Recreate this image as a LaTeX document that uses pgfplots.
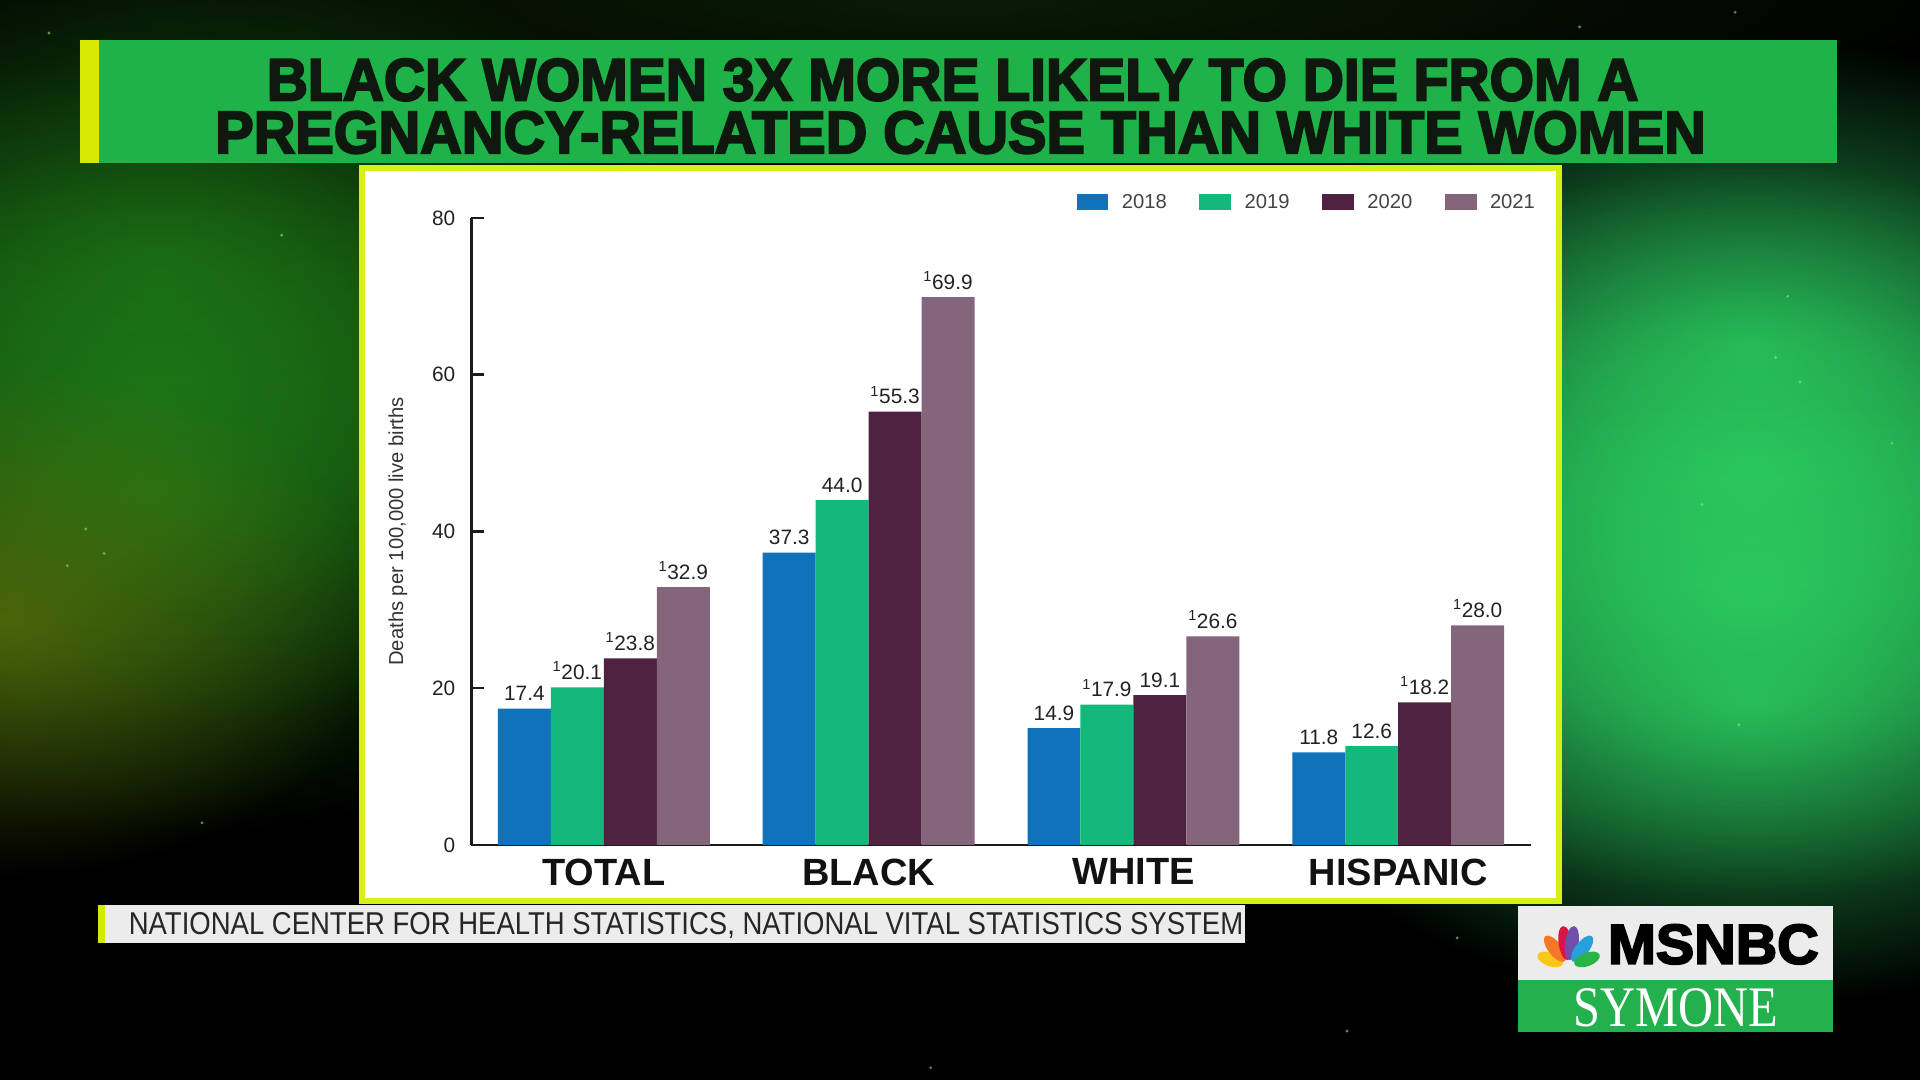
\documentclass[border=0pt]{standalone}
\usepackage{pgfplots}
\pgfplotsset{compat=1.18}
\usepackage{pgfplotstable}
\usepackage{graphicx}
\usepackage{fontspec}
\usetikzlibrary{fadings}
\setmainfont{Liberation Sans}
\newfontfamily\heavyfont{Liberation Sans}[BoldFeatures={FakeBold=3.5}]
\newfontfamily\seriffont{Liberation Serif}

% soft radial glow
\tikzfading[name=glow, inner color=transparent!0, outer color=transparent!100]

% footnote marker in front of a rate
\protected\def\fn{\textsuperscript{1}}

\definecolor{c18}{RGB}{16,114,185}
\definecolor{c19}{RGB}{19,185,122}
\definecolor{c20}{RGB}{79,34,66}
\definecolor{c21}{RGB}{132,101,124}
\definecolor{bandgreen}{RGB}{31,178,72}
\definecolor{stripe}{RGB}{212,232,0}
\definecolor{panelborder}{RGB}{215,240,20}
\definecolor{titlec}{RGB}{14,24,14}
\definecolor{capgray}{RGB}{236,236,236}
\definecolor{logogray}{RGB}{236,236,236}
\definecolor{logogreen}{RGB}{34,177,76}
\definecolor{axisc}{RGB}{26,26,26}
\definecolor{tickc}{RGB}{34,34,34}
\definecolor{valc}{RGB}{34,34,34}
\definecolor{labc}{RGB}{51,51,51}
\definecolor{legc}{RGB}{68,68,68}
\definecolor{glowL}{RGB}{32,130,25}
\definecolor{glowO}{RGB}{95,115,10}
\definecolor{glowR}{RGB}{45,212,100}

% Maternal mortality rates, deaths per 100,000 live births
\pgfplotstableread{
x  a     la      b     lb       c     lc       d     ld
0  17.4  17.4    20.1  \fn20.1  23.8  \fn23.8  32.9  \fn32.9
1  37.3  37.3    44.0  44.0     55.3  \fn55.3  69.9  \fn69.9
2  14.9  14.9    17.9  \fn17.9  19.1  19.1     26.6  \fn26.6
3  11.8  11.8    12.6  12.6     18.2  \fn18.2  28.0  \fn28.0
}\rates

\begin{document}
\begin{tikzpicture}
\useasboundingbox (0,0) rectangle (1568pt,882pt);
\begin{scope}[x=1pt,y=1pt]
  % dark backdrop with green glow
  \fill[black] (0,0) rectangle (1568,882);
  \begin{scope}
    \clip (0,0) rectangle (1568,882);
    \fill[color={rgb,255:red,20;green,55;blue,10}, opacity=0.5, path fading=glow] (780,882) ellipse (900 and 120);
    \foreach \gy in {660,570,480}
      \fill[glowL, opacity=0.65, path fading=glow] (130,\gy) ellipse (440 and 280);
    \fill[glowO, opacity=0.75, path fading=glow] (0,375) ellipse (320 and 210);
    \foreach \gy in {600,500,400,310}
      \fill[glowR, opacity=0.75, path fading=glow] (1430,\gy) ellipse (420 and 250);
    \foreach \px/\py in {40/855,1417/872,1290/860,230/690,1460/640,1390/470,55/420,1545/520,1190/116,1420/290,165/210,1330/60,760/10,1100/40,1470/570,1450/590,70/450,85/430}
      \fill[color={rgb,255:red,150;green,230;blue,120}, opacity=0.6] (\px,\py) circle (1.3);
  \end{scope}

  % headline band
  \fill[bandgreen] (65,749) rectangle (1500,849);
  \fill[stripe] (65,749) rectangle (81,849);
  \node[anchor=base, inner sep=0pt, text=titlec] at (778,800)
    {\resizebox{1120pt}{34pt}{\heavyfont\bfseries BLACK WOMEN 3X MORE LIKELY TO DIE FROM A}};
  \node[anchor=base, inner sep=0pt, text=titlec] at (784.5,757)
    {\resizebox{1217pt}{34pt}{\heavyfont\bfseries PREGNANCY-RELATED CAUSE THAN WHITE WOMEN}};

  % chart panel
  \fill[panelborder] (293,144) rectangle (1276,747);
  \fill[white] (298,149) rectangle (1271,742);

  % source strip
  \fill[capgray] (80,112) rectangle (1017,143);
  \fill[stripe] (80,112) rectangle (86,143);
  \node[anchor=base west, inner sep=0pt, text=black!85] at (105,119)
    {\resizebox{910pt}{18pt}{NATIONAL CENTER FOR HEALTH STATISTICS, NATIONAL VITAL STATISTICS SYSTEM}};

  % network logo
  \fill[logogray] (1240,82) rectangle (1497,142);
  \fill[logogreen] (1240,39) rectangle (1497,82);
  \foreach \ang/\col/\len in {160/{rgb,255:red,250;green,200;blue,20}/11,
                              128/{rgb,255:red,245;green,120;blue,40}/13,
                              98/{rgb,255:red,220;green,20;blue,70}/14,
                              82/{rgb,255:red,110;green,80;blue,170}/14,
                              52/{rgb,255:red,40;green,160;blue,220}/13,
                              20/{rgb,255:red,40;green,180;blue,70}/11}
  {
    \fill[color=\col, rotate around={\ang:({1281+(\len+5)*cos(\ang)},{93+(\len+5)*sin(\ang)})}]
      ({1281+(\len+5)*cos(\ang)},{93+(\len+5)*sin(\ang)}) ellipse (\len pt and 5.5pt);
  }
  \node[anchor=base west, inner sep=0pt, text=black] at (1313,95)
    {\resizebox{172pt}{32pt}{\heavyfont\bfseries MSNBC}};
  \node[anchor=base west, inner sep=0pt, text=white] at (1285,44)
    {\resizebox{167pt}{31pt}{\seriffont SYMONE}};
\end{scope}

\begin{axis}[
  at={(385pt,192pt)}, anchor=south west,
  scale only axis, width=865pt, height=512pt,
  xmin=-0.5, xmax=3.5, ymin=0, ymax=80,
  axis x line*=bottom, axis y line*=left,
  axis line style={-, line width=2pt, color=axisc},
  xtick={0,1,2,3}, xticklabels={TOTAL,BLACK,WHITE,HISPANIC},
  ytick={0,20,40,60,80},
  tick align=inside,
  xtick style={draw=none},
  ytick style={line width=2pt, color=axisc},
  major tick length=10pt,
  /pgf/number format/assume math mode=true,
  yticklabel style={font=\fontsize{17}{20}\selectfont, text=tickc, inner sep=0pt, anchor=east, xshift=-13pt},
  xticklabel style={font=\fontsize{31}{36}\selectfont\bfseries, text=black!93, inner sep=0pt, anchor=north, yshift=-1pt},
  ylabel={Deaths per 100,000 live births},
  every axis y label/.style={at={(axis description cs:-0.0694,0.5)}, rotate=90, anchor=center,
    font=\fontsize{16.5}{20}\selectfont, text=labc},
  ybar, bar width=0.2,
  point meta=explicit symbolic,
  nodes near coords,
  nodes near coords style={font=\fontsize{17}{20}\selectfont, text=valc, inner sep=0pt, anchor=south, yshift=6pt},
  legend columns=4,
  legend style={at={(axis description cs:0.5711,1.0254)}, anchor=west, draw=none, fill=none,
    inner sep=0pt, font=\fontsize{16.5}{20}\selectfont, text=legc,
    /tikz/every even column/.append style={column sep=26.5pt},
    /tikz/every odd column/.append style={column sep=11pt},
    nodes={inner sep=0pt}},
  clip=false,
]
\addplot[fill=c18, draw=none, bar shift=-0.3,
  legend image code/.code={\fill[c18] (0pt,-6.5pt) rectangle (26pt,6.5pt);}]
  table[x=x, y=a, meta=la] {\rates};
\addplot[fill=c19, draw=none, bar shift=-0.1,
  legend image code/.code={\fill[c19] (0pt,-6.5pt) rectangle (26pt,6.5pt);}]
  table[x=x, y=b, meta=lb] {\rates};
\addplot[fill=c20, draw=none, bar shift=0.1,
  legend image code/.code={\fill[c20] (0pt,-6.5pt) rectangle (26pt,6.5pt);}]
  table[x=x, y=c, meta=lc] {\rates};
\addplot[fill=c21, draw=none, bar shift=0.3,
  legend image code/.code={\fill[c21] (0pt,-6.5pt) rectangle (26pt,6.5pt);}]
  table[x=x, y=d, meta=ld] {\rates};
\legend{2018,2019,2020,2021}
\end{axis}
\end{tikzpicture}
\end{document}
